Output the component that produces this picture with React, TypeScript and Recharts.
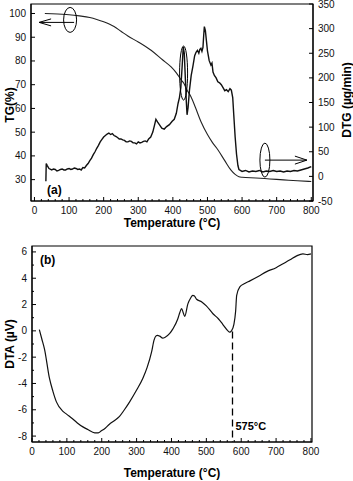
import React from "react";
import {
  Line,
  LineChart,
  ReferenceArea,
  ReferenceDot,
  ReferenceLine,
  XAxis,
  YAxis,
} from "recharts";

// (a) TG, left axis (%)
const tgTemp = [30, 50, 80, 100, 130, 160, 180, 200, 230, 250, 270, 300, 337, 370, 395, 410, 424, 432, 440, 452, 465, 481, 500, 515, 530, 550, 568, 580, 591, 600, 640, 680, 720, 760, 800];
const tgValue = [100, 99.9, 99.7, 99.5, 99, 98.3, 97.5, 96.5, 94.5, 92.5, 90.5, 88, 84.5, 80.5, 77.5, 75, 72, 70.5, 68, 65, 60.5, 54.5, 49, 45.5, 42.6, 38, 34, 32.2, 31.2, 31, 30.7, 30.3, 29.9, 29.5, 29.2];

// (a) DTG, right axis (µg/min)
const dtgTemp = [33, 34, 37, 42, 50, 55, 60, 65, 70, 75, 80, 85, 90, 95, 100, 105, 110, 115, 120, 125, 130, 135, 140, 145, 150, 155, 160, 165, 170, 175, 180, 185, 190, 195, 200, 205, 210, 215, 220, 225, 230, 235, 240, 245, 250, 255, 260, 265, 270, 275, 280, 285, 290, 295, 300, 305, 310, 315, 320, 325, 330, 336, 342, 347, 351, 356, 362, 368, 375, 382, 390, 398, 404, 410, 415, 419, 423, 427, 430, 433, 436, 439, 441, 444, 448, 453, 458, 463, 467, 471, 475, 478, 481, 484, 487, 489, 491, 494, 497, 500, 505, 510, 513, 516, 520, 525, 530, 535, 540, 545, 550, 555, 560, 565, 569, 573, 576, 580, 584, 588, 591, 600, 610, 620, 630, 640, 650, 660, 670, 680, 690, 700, 710, 720, 730, 740, 750, 760, 770, 780, 790, 800];
const dtgValue = [-10, 26, 22, 16, 13, 15, 14, 11, 12, 14, 15, 13, 13, 15, 16, 14, 15, 17, 16, 14, 15, 13, 18, 17, 22, 26, 32, 37, 44, 50, 57, 63, 70, 75, 80, 83, 86, 88, 85, 87, 83, 81, 79, 76, 76, 74, 73, 70, 70, 72, 71, 68, 68, 66, 70, 68, 69, 71, 72, 70, 76, 80, 90, 104, 116, 110, 104, 98, 96, 101, 105, 112, 116, 128, 148, 160, 180, 225, 263, 250, 200, 150, 125, 140, 175, 205, 224, 245, 252, 256, 250, 258, 260, 254, 262, 285, 304, 296, 275, 255, 235, 226, 230, 212, 205, 200, 192, 190, 186, 180, 174, 176, 172, 178, 175, 160, 125, 80, 45, 22, 14, 10, 12, 9, 11, 10, 12, 9, 11, 10, 12, 10, 11, 9, 11, 10, 12, 11, 13, 15, 17, 20];

// (b) DTA (µV)
const dtaTemp = [21, 28, 36, 50, 60, 70, 88, 100, 117, 130, 146, 160, 180, 190, 199, 210, 222, 235, 251, 265, 280, 300, 318, 330, 343, 350, 355, 360, 366, 375, 381, 395, 404, 418, 424, 429, 434, 438, 447, 455, 461, 466, 472, 487, 500, 519, 535, 547, 562, 567, 572, 579, 584, 587, 596, 610, 625, 650, 673, 700, 720, 740, 759, 777, 790, 800];
const dtaValue = [0.1, -0.6, -1.4, -3.6, -4.6, -5.4, -6.1, -6.35, -6.7, -7.0, -7.3, -7.5, -7.75, -7.75, -7.6, -7.4, -7.1, -6.85, -6.5, -6.0, -5.4, -4.5, -3.6, -2.8, -1.6, -0.7, -0.4, -0.35, -0.4, -0.55, -0.5, -0.2, 0.15, 0.9, 1.4, 1.7, 1.35, 1.1, 2.05, 2.5, 2.7, 2.65, 2.4, 2.2, 1.9, 1.3, 0.9, 0.5, 0.0, -0.1, 0.0, 0.5, 1.5, 2.7, 3.35, 3.6, 3.8, 4.15, 4.5, 4.8, 5.1, 5.4, 5.7, 5.85, 5.8, 5.85];

const tgTicks = [30, 40, 50, 60, 70, 80, 90, 100];
const dtgTicks = [-50, 0, 50, 100, 150, 200, 250, 300, 350];
const dtaTicks = [-8, -7, -6, -5, -4, -3, -2, -1, 0, 1, 2, 3, 4, 5, 6];
const tempTicks = Array.from({ length: 41 }, (_, i) => i * 20);

const tgData = tgTemp.map((t, i) => ({ t, v: tgValue[i] }));
const dtgData = dtgTemp.map((t, i) => ({ t, v: dtgValue[i] }));
const dtaData = dtaTemp.map((t, i) => ({ t, v: dtaValue[i] }));

const FONT = '"Liberation Sans", Arial, sans-serif';
const INK = "#111";

const BottomTick = (props: any) => {
  const { x, y, payload } = props;
  const major = payload.value % 100 === 0;
  return (
    <g>
      <line x1={x} x2={x} y1={y} y2={y - (major ? 4 : 2)} stroke="#000" />
      {major && (
        <text x={x} y={y + 13} textAnchor="middle" fontSize={10} fill={INK} fontFamily={FONT}>
          {payload.value}
        </text>
      )}
    </g>
  );
};

const makeSideTick = (side: "left" | "right", isMajor: (v: number) => boolean) => (props: any) => {
  const { x, y, payload } = props;
  const major = isMajor(payload.value);
  const len = major ? 4 : 2;
  const dir = side === "left" ? 1 : -1;
  return (
    <g>
      <line x1={x} x2={x + dir * len} y1={y} y2={y} stroke="#000" />
      {major && (
        <text
          x={x - dir * 5}
          y={y}
          dy="0.35em"
          textAnchor={side === "left" ? "end" : "start"}
          fontSize={10}
          fill={INK}
          fontFamily={FONT}
        >
          {payload.value}
        </text>
      )}
    </g>
  );
};

const title = { fontFamily: FONT, fontWeight: "bold" as const, fill: "#000" };

const panelALabels = (props: any) => {
  const vb = props.viewBox;
  if (!vb) return null;
  return (
    <g>
      <text x={vb.x + 16} y={vb.y + vb.height - 7} fontSize={12} {...title}>(a)</text>
      <text transform={`translate(${vb.x - 21},${vb.y + 101}) rotate(-90)`} textAnchor="middle" dy="0.35em" fontSize={12} {...title}>
        TG(%)
      </text>
      <text transform={`translate(${vb.x + vb.width + 34},${vb.y + 96}) rotate(-90)`} textAnchor="middle" dy="0.35em" fontSize={12} {...title}>
        DTG (µg/min)
      </text>
      <text x={vb.x + vb.width / 2} y={vb.y + vb.height + 26} textAnchor="middle" fontSize={12} {...title}>
        Temperature (°C)
      </text>
    </g>
  );
};

const panelBLabels = (props: any) => {
  const vb = props.viewBox;
  if (!vb) return null;
  return (
    <g>
      <text x={vb.x + 8} y={vb.y + 18} fontSize={12} {...title}>(b)</text>
      <text transform={`translate(${vb.x - 22},${vb.y + 98}) rotate(-90)`} textAnchor="middle" dy="0.35em" fontSize={12} {...title}>
        DTA (µV)
      </text>
      <text x={vb.x + vb.width / 2} y={vb.y + vb.height + 35} textAnchor="middle" fontSize={12} {...title}>
        Temperature (°C)
      </text>
    </g>
  );
};

const LeftMarker = (p: any) => (
  <g fill="none" stroke="#000">
    <ellipse cx={p.cx} cy={p.cy} rx={6.5} ry={12.5} />
    <line x1={p.cx + 4} y1={p.cy + 2.5} x2={p.cx - 31} y2={p.cy + 2.5} />
    <polyline points={`${p.cx - 19},${p.cy - 1} ${p.cx - 31},${p.cy + 2.5} ${p.cx - 19},${p.cy + 6}`} />
  </g>
);

const MiddleMarker = (p: any) => (
  <ellipse cx={p.cx} cy={p.cy} rx={4} ry={27} fill="none" stroke="#000" />
);

const RightMarker = (p: any) => (
  <g fill="none" stroke="#000">
    <ellipse cx={p.cx} cy={p.cy} rx={5} ry={17} />
    <line x1={p.cx} y1={p.cy} x2={p.cx + 42} y2={p.cy} />
    <polyline points={`${p.cx + 30},${p.cy - 4} ${p.cx + 42},${p.cy} ${p.cx + 30},${p.cy + 4}`} />
  </g>
);

const TempNote = (p: any) => (
  <text x={p.cx + 3} y={p.cy} dy="0.35em" fontSize={11} {...title}>
    575°C
  </text>
);

export default function App() {
  return (
    <div style={{ position: "absolute", left: 0, top: 0, width: 353, height: 481, background: "#fff" }}>
      <LineChart width={353} height={232} margin={{ top: 4, right: 0, bottom: 0, left: 0 }}>
        <XAxis
          type="number"
          dataKey="t"
          domain={[-10, 805]}
          ticks={tempTicks}
          interval={0}
          tick={BottomTick}
          tickLine={false}
          tickSize={0}
          tickMargin={0}
          height={31}
          allowDataOverflow
          axisLine={{ stroke: "#000" }}
        />
        <YAxis
          yAxisId="tg"
          type="number"
          domain={[21, 104]}
          ticks={tgTicks}
          interval={0}
          tick={makeSideTick("left", () => true)}
          tickLine={false}
          tickSize={0}
          tickMargin={0}
          width={31}
          allowDataOverflow
          axisLine={{ stroke: "#000" }}
        />
        <YAxis
          yAxisId="dtg"
          orientation="right"
          type="number"
          domain={[-50, 350]}
          ticks={dtgTicks}
          interval={0}
          tick={makeSideTick("right", () => true)}
          tickLine={false}
          tickSize={0}
          tickMargin={0}
          width={40}
          allowDataOverflow
          axisLine={{ stroke: "#000" }}
        />
        <ReferenceArea yAxisId="tg" x1={-10} x2={805} y1={21} y2={104} fill="none" stroke="#000" strokeWidth={1.2} label={panelALabels} />
        <Line yAxisId="tg" data={tgData} dataKey="v" type="monotone" stroke="#222" strokeWidth={1.1} dot={false} isAnimationActive={false} />
        <Line yAxisId="dtg" data={dtgData} dataKey="v" type="linear" stroke="#111" strokeWidth={1.4} dot={false} isAnimationActive={false} />
        <ReferenceDot yAxisId="tg" x={103} y={97.3} r={0} shape={LeftMarker} />
        <ReferenceDot yAxisId="tg" x={431} y={74.9} r={0} shape={MiddleMarker} />
        <ReferenceDot yAxisId="dtg" x={666} y={33} r={0} shape={RightMarker} />
      </LineChart>
      <LineChart width={353} height={249} data={dtaData} margin={{ top: 14, right: 41, bottom: 0, left: 0 }}>
        <XAxis
          type="number"
          dataKey="t"
          domain={[0, 803]}
          ticks={tempTicks}
          interval={0}
          tick={BottomTick}
          tickLine={false}
          tickSize={0}
          tickMargin={0}
          height={39}
          allowDataOverflow
          axisLine={{ stroke: "#000" }}
        />
        <YAxis
          type="number"
          domain={[-8.45, 6.45]}
          ticks={dtaTicks}
          interval={0}
          tick={makeSideTick("left", (v) => v % 2 === 0)}
          tickLine={false}
          tickSize={0}
          tickMargin={0}
          width={32}
          allowDataOverflow
          axisLine={{ stroke: "#000" }}
        />
        <ReferenceArea x1={0} x2={803} y1={-8.45} y2={6.45} fill="none" stroke="#000" strokeWidth={1.2} label={panelBLabels} />
        <Line dataKey="v" type="monotone" stroke="#111" strokeWidth={1.2} dot={false} isAnimationActive={false} />
        <ReferenceLine segment={[{ x: 575, y: -0.05 }, { x: 575, y: -8.45 }]} stroke="#000" strokeWidth={1.3} strokeDasharray="7 4" />
        <ReferenceDot x={575} y={-7.23} r={0} shape={TempNote} />
      </LineChart>
    </div>
  );
}
